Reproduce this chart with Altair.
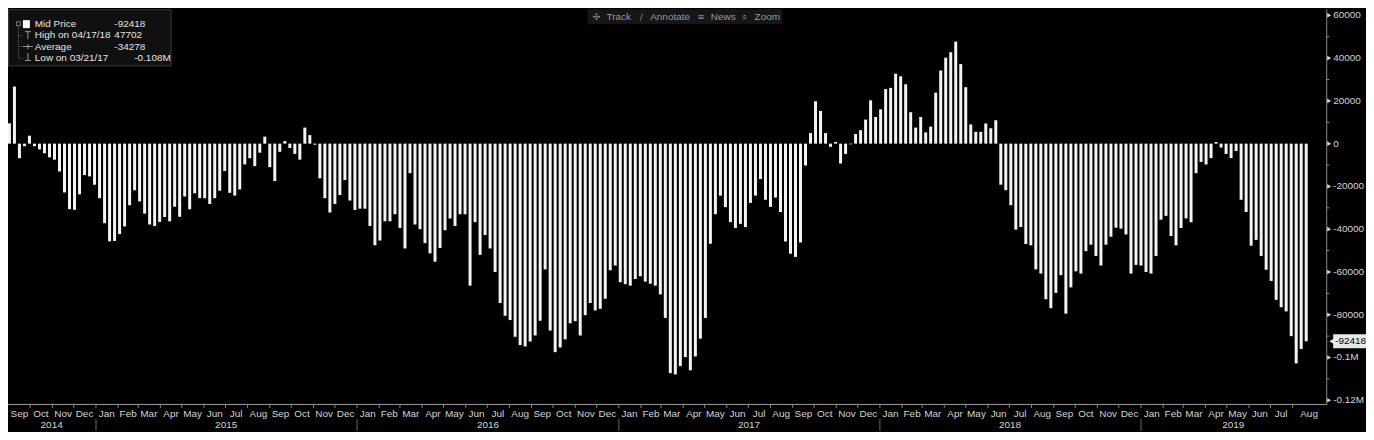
import altair as alt
import pandas as pd

# ---------------- data ----------------
FIRST_DATE = "2014-09-02"          # weekly (Tuesday) observations
VALUES = [
    9500, 26700, -6800, -1200, 3700, -1200, -2700, -4500, -6400, -7500,
    -13000, -22800, -30600, -30900, -23700, -14700, -15300, -19200, -25500, -37200,
    -45700, -45500, -42300, -38700, -28800, -21800, -27000, -32700, -37800, -38500,
    -36600, -34300, -36300, -29500, -34200, -24700, -30700, -23200, -25500, -25500,
    -28200, -25500, -22000, -12800, -23000, -24300, -21400, -9700, -6800, -10500,
    -4200, 3300, -11000, -17500, -3800, 1200, -2000, -4800, -7500, 7500,
    4000, -500, -16200, -25500, -32200, -28200, -24000, -17000, -26600, -31000,
    -30400, -30400, -38500, -47500, -45300, -36300, -36300, -33000, -39400, -49000,
    -13800, -37800, -40000, -46500, -51300, -55200, -48800, -40500, -35000, -38500,
    -33000, -33000, -66400, -36700, -52000, -42700, -49000, -60000, -74500, -80500,
    -82500, -90300, -94200, -94800, -92500, -89700, -82800, -58800, -87400, -97500,
    -95300, -91500, -84000, -83000, -89700, -80200, -74500, -78000, -77200, -72500,
    -59200, -57000, -64800, -65700, -66400, -63300, -62000, -64500, -65500, -66400,
    -70500, -81500, -107300, -107900, -104000, -99800, -106000, -99500, -91200, -81500,
    -46800, -33000, -24300, -29700, -36700, -39400, -37500, -39000, -27700, -24300,
    -16500, -26250, -29550, -25200, -31950, -45750, -51450, -52950, -46200, -10200,
    4950, 19800, 15300, 4950, -1500, 750, -9300, -4800, -300, 4500,
    6300, 11250, 20250, 12450, 16050, 25500, 26100, 32700, 31500, 27750,
    14700, 7500, 12450, 5250, 7950, 23850, 34200, 40200, 42750, 47702,
    37200, 26400, 9000, 5550, 5550, 9450, 7200, 10950, -19200, -21750,
    -28800, -40200, -39000, -46950, -47550, -58800, -60750, -72750, -76950, -69750,
    -61500, -79500, -67200, -59700, -60750, -50250, -47250, -52500, -57000, -47250,
    -43500, -39300, -39750, -42450, -60750, -56700, -57000, -60000, -60750, -52500,
    -35550, -33750, -43200, -47550, -39450, -34950, -36750, -13800, -8550, -9750,
    -6750, 750, -1800, -4800, -6750, -3450, -26250, -31950, -47700, -45000,
    -52500, -58950, -64200, -73050, -76500, -78450, -90000, -102750, -96000, -92418,
]
LAST_LABEL = "-92418"
LEGEND_ROWS = ["Mid Price", "High on 04/17/18", "Average", "Low on 03/21/17"]
LEGEND_VALUES = ["-92418", "47702", "-34278", "-0.108M"]
TOOLBAR_ICONS = ["\u2723", "\u2215", "\u2261", "\u2315"]
TOOLBAR_TEXT = ["Track", "Annotate", "News", "Zoom"]
Y_MAJOR = [60000, 40000, 20000, 0, -20000, -40000, -60000, -80000, -100000, -120000]
Y_LABELS = ["60000", "40000", "20000", "0", "-20000", "-40000", "-60000", "-80000", "-0.1M", "-0.12M"]
Y_MINOR = list(range(-120000, 60001, 10000))
X_START, X_END = "2014-08-31", "2019-09-17"
Y_DOMAIN = [-121700, 62850]

# ---------------- layout ----------------
W, H = 1326, 397
BOTTOM, RIGHT = 27, 40
FONT = "Liberation Sans, Arial, sans-serif"
TXT = "#d4d4d4"
GRAY = "#8a8a8a"

dates = pd.date_range(FIRST_DATE, periods=len(VALUES), freq="7D")
bars_df = pd.DataFrame({"date": dates.strftime("%Y-%m-%d"), "value": VALUES})

dstart, dend = pd.Timestamp(X_START), pd.Timestamp(X_END)
month_starts = pd.date_range("2014-09-01", "2019-08-01", freq="MS")
month_rows = []
for i, m in enumerate(month_starts):
    a = max(m, dstart)
    b = dend if i == len(month_starts) - 1 else month_starts[i + 1]
    month_rows.append({"date": (a + (b - a) / 2).strftime("%Y-%m-%d"), "label": m.strftime("%b")})
months_df = pd.DataFrame(month_rows)
mticks_df = pd.DataFrame({"date": month_starts[1:].strftime("%Y-%m-%d")})

year_rows, ysep = [], []
for y in range(2014, 2020):
    a = max(pd.Timestamp(f"{y}-01-01"), dstart)
    b = min(pd.Timestamp(f"{y + 1}-01-01"), dend)
    year_rows.append({"date": (a + (b - a) / 2).strftime("%Y-%m-%d"), "label": str(y)})
    if y > 2014:
        ysep.append(f"{y}-01-01")
years_df = pd.DataFrame(year_rows)
ysep_df = pd.DataFrame({"date": ysep})

xscale = alt.Scale(domain=[alt.DateTime(year=2014, month=8, date=31, utc=True),
                           alt.DateTime(year=2019, month=9, date=17, utc=True)], padding=0)
yscale = alt.Scale(domain=Y_DOMAIN, nice=False, padding=0)


def X():
    return alt.X("date:T", scale=xscale, axis=None)


def Y(field="value"):
    return alt.Y(f"{field}:Q", scale=yscale, axis=None)


one = pd.DataFrame({"k": [0]})

bars = alt.Chart(bars_df).mark_bar(width=3, color="#f4f4f4").encode(x=X(), y=Y())

# bottom (time) axis
base_line = alt.Chart(one).mark_rule(color="#a0a0a0", strokeWidth=1).encode(
    x=alt.value(0), x2=alt.value(W + 1), y=alt.value(H + 0.5))
mticks = alt.Chart(mticks_df).mark_rule(color=GRAY).encode(x=X(), y=alt.value(H), y2=alt.value(H + 4))
mlabels = alt.Chart(months_df).mark_text(font=FONT, fontSize=10, color=TXT, baseline="middle").encode(
    x=X(), y=alt.value(H + 10), text="label:N")
yseps = alt.Chart(ysep_df).mark_rule(color="#6a6a6a").encode(x=X(), y=alt.value(H + 15), y2=alt.value(H + BOTTOM))
ylabels = alt.Chart(years_df).mark_text(font=FONT, fontSize=10, color=TXT, baseline="middle").encode(
    x=X(), y=alt.value(H + 21), text="label:N")

# right (value) axis
ydomain_line = alt.Chart(one).mark_rule(color=GRAY).encode(x=alt.value(W + 0.5), y=alt.value(0), y2=alt.value(H))
minor = alt.Chart(pd.DataFrame({"value": Y_MINOR})).mark_rule(color=GRAY).encode(
    x=alt.value(W), x2=alt.value(W + 3), y=Y())
tri = alt.Chart(pd.DataFrame({"value": Y_MAJOR})).mark_point(
    shape="triangle-right", filled=True, size=22, color="#d0d0d0", opacity=1).encode(x=alt.value(W + 3), y=Y())
ytext = alt.Chart(pd.DataFrame({"value": Y_MAJOR, "label": Y_LABELS})).mark_text(
    font=FONT, fontSize=10, color=TXT, align="left", baseline="middle").encode(
    x=alt.value(W + 7), y=Y(), text="label:N")

last_df = pd.DataFrame({"value": [VALUES[-1]], "label": [LAST_LABEL]})
last_box = alt.Chart(last_df).mark_rect(color="#e8e8e8", yOffset=-7, y2Offset=7).encode(
    x=alt.value(W + 7), x2=alt.value(W + RIGHT), y=Y(), y2="value:Q")
last_ptr = alt.Chart(last_df).mark_point(shape="triangle-left", filled=True, size=45,
                                         color="#e8e8e8", opacity=1).encode(x=alt.value(W + 6), y=Y())
last_txt = alt.Chart(last_df).mark_text(font=FONT, fontSize=10, color="#000000", align="left",
                                        baseline="middle").encode(x=alt.value(W + 9), y=Y(), text="label:N")

layers = [bars, base_line, mticks, mlabels, yseps, ylabels, ydomain_line, minor, tri, ytext,
          last_box, last_ptr, last_txt]

# legend box (top-left)
layers.append(alt.Chart(one).mark_rect(fill="#101010", stroke="#3a3a3a", strokeWidth=1).encode(
    x=alt.value(0.5), x2=alt.value(164), y=alt.value(0.5), y2=alt.value(57)))
layers.append(alt.Chart(one).mark_rect(fill="#101010", stroke="#777777", strokeWidth=1).encode(
    x=alt.value(8.5), x2=alt.value(12.5), y=alt.value(12.5), y2=alt.value(16.5)))
layers.append(alt.Chart(one).mark_rect(fill="#ffffff").encode(
    x=alt.value(15), x2=alt.value(22), y=alt.value(11), y2=alt.value(19)))
layers.append(alt.Chart(one).mark_rule(color="#666666", strokeDash=[1, 1]).encode(
    x=alt.value(10.5), y=alt.value(17), y2=alt.value(49)))
for ry in (26, 37, 49):
    layers.append(alt.Chart(one).mark_rule(color="#666666", strokeDash=[1, 1]).encode(
        x=alt.value(10.5), x2=alt.value(15), y=alt.value(ry + 0.5)))
layers.append(alt.Chart(one).mark_rule(color="#9a9a9a").encode(x=alt.value(17), x2=alt.value(23), y=alt.value(22.5)))
layers.append(alt.Chart(one).mark_rule(color="#9a9a9a").encode(x=alt.value(20), y=alt.value(22.5), y2=alt.value(30)))
layers.append(alt.Chart(one).mark_rule(color="#9a9a9a").encode(x=alt.value(15), x2=alt.value(25), y=alt.value(37.5)))
layers.append(alt.Chart(one).mark_rule(color="#9a9a9a").encode(x=alt.value(20), y=alt.value(35), y2=alt.value(40)))
layers.append(alt.Chart(one).mark_rule(color="#9a9a9a").encode(x=alt.value(20), y=alt.value(44), y2=alt.value(51.5)))
layers.append(alt.Chart(one).mark_rule(color="#9a9a9a").encode(x=alt.value(17), x2=alt.value(23), y=alt.value(51.5)))

row_y = [15, 26, 37.5, 49]
val_x = [107, 107, 107, 127]
for lab, val, ry, vx in zip(LEGEND_ROWS, LEGEND_VALUES, row_y, val_x):
    layers.append(alt.Chart(pd.DataFrame({"t": [lab]})).mark_text(
        font=FONT, fontSize=10, color="#e6e6e6", align="left", baseline="middle").encode(
        x=alt.value(27), y=alt.value(ry), text="t:N"))
    layers.append(alt.Chart(pd.DataFrame({"t": [val]})).mark_text(
        font=FONT, fontSize=10, color="#e6e6e6", align="left", baseline="middle").encode(
        x=alt.value(vx), y=alt.value(ry), text="t:N"))

# toolbar (top centre)
layers.append(alt.Chart(one).mark_rect(fill="#161616").encode(
    x=alt.value(583), x2=alt.value(779), y=alt.value(0), y2=alt.value(15)))
for icon, ix in zip(TOOLBAR_ICONS, [592, 637, 697, 741]):
    layers.append(alt.Chart(pd.DataFrame({"t": [icon]})).mark_text(
        font="DejaVu Sans, sans-serif", fontSize=9, color="#8a8a8a", align="center", baseline="middle").encode(
        x=alt.value(ix), y=alt.value(8), text="t:N"))
for item, tx in zip(TOOLBAR_TEXT, [602, 646, 707, 751]):
    layers.append(alt.Chart(pd.DataFrame({"t": [item]})).mark_text(
        font=FONT, fontSize=10, color="#9a9a9a", align="left", baseline="middle").encode(
        x=alt.value(tx), y=alt.value(8), text="t:N"))

chart = alt.layer(*layers).properties(
    width=W, height=H,
    padding={"left": 0, "top": 0, "right": RIGHT, "bottom": BOTTOM},
    autosize=alt.AutoSizeParams(type="none"),
).configure(background="#000000").configure_view(strokeWidth=0)

chart.save("out.html", embed_options={"renderer": "svg", "actions": False})
